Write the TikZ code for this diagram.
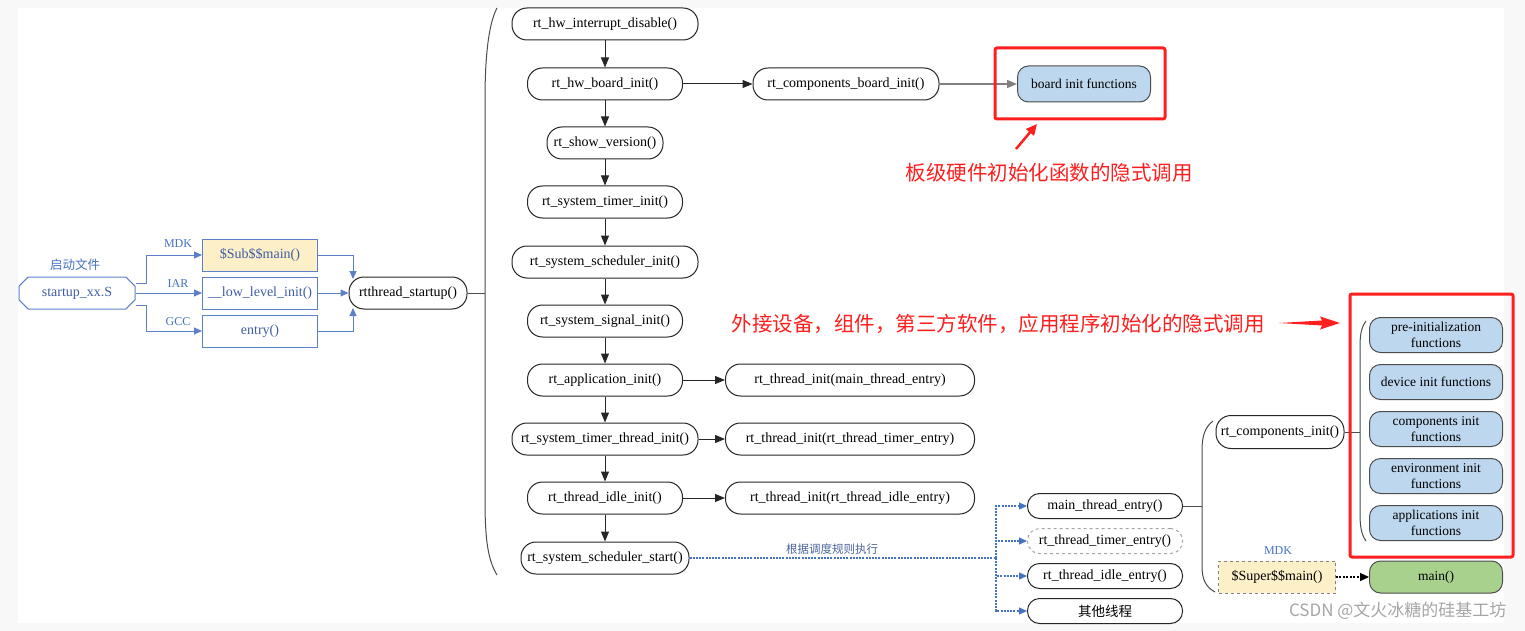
\documentclass[tikz,border=0pt]{standalone}
\usepackage{fontspec}
\setmainfont{Liberation Serif}
\newfontfamily\cjk{Noto Sans CJK SC}
\usetikzlibrary{arrows.meta,shapes.misc}
\definecolor{cblue}{HTML}{4472C4}
\definecolor{lblue}{HTML}{5B80C8}
\definecolor{tblue}{HTML}{3F5DA3}
\definecolor{boxblue}{HTML}{BDD7EE}
\definecolor{boxyel}{HTML}{FDEFC8}
\definecolor{boxgreen}{HTML}{A9D18E}
\definecolor{rred}{HTML}{FF1E1E}
\definecolor{bgray}{HTML}{F8F8F8}
\begin{document}
\begin{tikzpicture}[x=1pt,y=-1pt,
  pill/.style={draw=black!85,line width=1pt,rounded corners=15pt,minimum height=32pt,inner sep=0pt,font=\fontsize{14}{16}\selectfont},
  bluebox/.style={draw=black!70,fill=boxblue,line width=1pt,rounded corners=11pt,minimum width=133pt,minimum height=35pt,inner sep=0pt,align=center,font=\fontsize{13.5}{16.5}\selectfont},
  lbox/.style={draw=lblue,line width=1pt,minimum width=115pt,minimum height=32pt,inner sep=0pt,text=tblue,font=\fontsize{14}{16}\selectfont},
  tip/.style={-{Triangle[length=10pt,width=8pt]}},
  btip/.style={-{Triangle[length=8pt,width=7pt]}},
  arr/.style={draw=black!85,line width=1pt,tip},
  barr/.style={draw=lblue,line width=1pt,btip,fill=none},
  gline/.style={draw=black!70,line width=1pt},
  dotb/.style={draw=cblue,line width=1.2pt,dash pattern=on 2pt off 1.2pt,-{Triangle[length=8pt,width=7pt]}},
  lab/.style={text=cblue,font=\fontsize{12}{14}\selectfont},
  redtxt/.style={text=rred,font=\cjk\fontsize{20.5}{24}\selectfont}
]
\useasboundingbox (0,0) rectangle (1525,631);
\fill[bgray] (0,0) rectangle (1525,631);
\fill[white] (18,8) rectangle (1504,623);

% left part
\node[chamfered rectangle,chamfered rectangle xsep=7pt,draw=lblue,line width=1pt,minimum width=116pt,minimum height=32pt,inner sep=0pt,text=tblue,font=\fontsize{14}{16}\selectfont] (st) at (77,293) {startup\_xx.S};
\node[text=cblue,font=\cjk\fontsize{12.5}{14}\selectfont] (stl) at (75,265) {启动文件};
\node[lbox,fill=boxyel] (sub) at (260,255) {\$Sub\$\$main()};
\node[lbox] (low) at (260,293) {\_\_low\_level\_init()};
\node[lbox] (ent) at (260,331) {entry()};
\node[pill,minimum width=118pt] (rt) at (408,293) {rtthread\_startup()};
\draw[barr] ([yshift=10pt]st.east) -- ++(11,0) |- (sub.west);
\draw[barr] (st.east) -- (low.west);
\draw[barr] ([yshift=-12pt]st.east) -- ++(11,0) |- (ent.west);
\node[lab] (lmdk) at (178,244) {MDK};
\node[lab] (liar) at (178,284) {IAR};
\node[lab] (lgcc) at (178,322) {GCC};
\coordinate (rtA) at (353,279);
\coordinate (rtB) at (353,308);
\draw[barr] (sub.east) -| (rtA);
\draw[barr] (low.east) -- (rt.west);
\draw[barr] (ent.east) -| (rtB);

% big bracket
\coordinate (br1) at (485,293);
\draw[gline] (497,8) .. controls (488,25) and (485,60) .. (485,100) -- (485,500) .. controls (485,540) and (488,560) .. (497,575);
\draw[gline] (rt.east) -- (br1);

% main column
\node[pill,minimum width=186pt] (n1) at (605,24) {rt\_hw\_interrupt\_disable()};
\node[pill,minimum width=155pt] (n2) at (605,84) {rt\_hw\_board\_init()};
\node[pill,minimum width=116pt] (n3) at (605,143) {rt\_show\_version()};
\node[pill,minimum width=155pt] (n4) at (605,202) {rt\_system\_timer\_init()};
\node[pill,minimum width=186pt] (n5) at (605,262) {rt\_system\_scheduler\_init()};
\node[pill,minimum width=155pt] (n6) at (605,321) {rt\_system\_signal\_init()};
\node[pill,minimum width=155pt] (n7) at (605,380) {rt\_application\_init()};
\node[pill,minimum width=186pt] (n8) at (605,439) {rt\_system\_timer\_thread\_init()};
\node[pill,minimum width=155pt] (n9) at (605,498) {rt\_thread\_idle\_init()};
\node[pill,minimum width=168pt] (n10) at (605,558) {rt\_system\_scheduler\_start()};
\foreach \a/\b in {n1/n2,n2/n3,n3/n4,n4/n5,n5/n6,n6/n7,n7/n8,n8/n9,n9/n10}
  \draw[arr] (\a) -- (\b);

% right of main column
\node[pill,minimum width=186pt] (cb) at (846,84) {rt\_components\_board\_init()};
\node[bluebox,minimum height=36pt] (bif) at (1084,84) {board init functions};
\draw[arr] (n2) -- (cb);
\draw[draw=gray,line width=1.5pt,tip] (cb) -- (bif);
\node[pill,minimum width=249pt] (ti1) at (850,380) {rt\_thread\_init(main\_thread\_entry)};
\node[pill,minimum width=249pt] (ti2) at (850,439) {rt\_thread\_init(rt\_thread\_timer\_entry)};
\node[pill,minimum width=249pt] (ti3) at (850,498) {rt\_thread\_init(rt\_thread\_idle\_entry)};
\draw[arr] (n7) -- (ti1);
\draw[arr] (n8) -- (ti2);
\draw[arr] (n9) -- (ti3);

% red annotation 1
\draw[rred,line width=3pt,rounded corners=2pt] (995,48) rectangle (1165,119);
\coordinate (ra1) at (1016,149);
\coordinate (ra2) at (1037,124);
\draw[rred,line width=2.5pt,-{Triangle[length=11pt,width=10pt]}] (ra1) -- (ra2);
\node[redtxt] (rt1) at (1049,173) {板级硬件初始化函数的隐式调用};

% threads
\node[pill,minimum width=155pt,minimum height=25pt,rounded corners=12pt] (t1) at (1105,506) {main\_thread\_entry()};
\node[pill,minimum width=155pt,minimum height=25pt,rounded corners=12pt,draw=black!35,dashed] (t2) at (1105,541) {rt\_thread\_timer\_entry()};
\node[pill,minimum width=155pt,minimum height=25pt,rounded corners=12pt] (t3) at (1105,576) {rt\_thread\_idle\_entry()};
\node[pill,minimum width=155pt,minimum height=25pt,rounded corners=12pt,font=\cjk\fontsize{13.5}{16}\selectfont] (t4) at (1105,611) {其他线程};
\coordinate (bx) at (996,558);
\draw[draw=cblue,line width=1.2pt,dash pattern=on 2pt off 1.2pt] (n10) -- (bx);
\foreach \t in {t1,t2,t3,t4}
  \draw[dotb] (bx) |- (\t.west);
\node[text=tblue!80!gray,font=\cjk\fontsize{11.5}{13}\selectfont] (sched) at (832,549) {根据调度规则执行};

% components
\coordinate (br2) at (1202,506);
\draw[gline] (t1) -- (br2);
\draw[gline] (1213,421) .. controls (1205,427) and (1202,436) .. (1202,450) -- (1202,566) .. controls (1202,580) and (1206,587) .. (1215,592);
\node[pill,minimum width=128pt,minimum height=33pt] (ci) at (1280,432) {rt\_components\_init()};
\node[draw=black!50,dashed,fill=boxyel,minimum width=117pt,minimum height=32pt,inner sep=0pt,font=\fontsize{14}{16}\selectfont] (sup) at (1277,577) {\$Super\$\$main()};
\node[lab] (smdk) at (1278,551) {MDK};
\node[bluebox,fill=boxgreen,minimum height=32pt] (mn) at (1436,577) {main()};
\draw[draw=black,line width=1.2pt,dash pattern=on 2pt off 1.5pt,-{Triangle[length=9pt,width=8pt]}] (sup) -- (mn);

\coordinate (br3) at (1360,432);
\draw[gline] (ci) -- (br3);
\draw[gline] (1366,321) .. controls (1361,328) and (1360,335) .. (1360,348) -- (1360,512) .. controls (1360,526) and (1361,534) .. (1366,541);
\node[bluebox] (b1) at (1436,335) {pre-initialization\\functions};
\node[bluebox] (b2) at (1436,382) {device init functions};
\node[bluebox] (b3) at (1436,429) {components init\\functions};
\node[bluebox] (b4) at (1436,476) {environment init\\functions};
\node[bluebox] (b5) at (1436,523) {applications init\\functions};
\draw[rred,line width=3pt,rounded corners=2pt] (1350,294) rectangle (1513,557);

% red annotation 2
\node[redtxt] (rt2) at (998,324) {外接设备，组件，第三方软件，应用程序初始化的隐式调用};
\fill[rred] (1279,323) -- (1322,320.5) -- (1320,316.5) -- (1340,323) -- (1320,329.5) -- (1322,325.5) -- cycle;

% watermark
\node[text=black!35,font=\cjk\fontsize{17}{20}\selectfont,anchor=east] (wm) at (1510,611) {CSDN @文火冰糖的硅基工坊};
\end{tikzpicture}
\end{document}
